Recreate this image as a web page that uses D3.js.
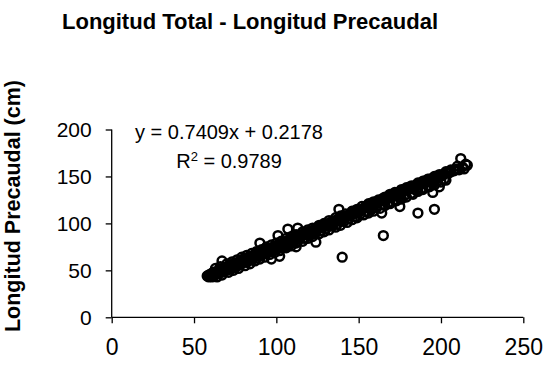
<!DOCTYPE html>
<html>
<head>
<meta charset="utf-8">
<script src="https://cdn.jsdelivr.net/npm/d3@7"></script>
<style>
  html, body { margin: 0; padding: 0; background: #fff; }
  svg { display: block; }
  text { font-family: "Liberation Sans", Arial, sans-serif; fill: #000; }
</style>
</head>
<body>
<svg id="chart" width="547" height="375"></svg>
<script>
// Longitud total (cm) vs longitud precaudal (cm), one pair per specimen
const longitudTotal = [
  58,59,59,60,60,61,61,62,62,63,64,65,65,66,67,68,68,69,70,70,
  71,72,73,74,74,75,76,77,78,78,79,80,80,81,82,83,84,84,85,86,
  87,88,88,89,90,91,92,92,93,94,95,95,96,97,98,99,100,100,101,102,
  103,104,105,105,106,107,108,109,110,110,111,112,113,114,115,115,116,117,118,119,
  120,120,121,122,123,124,125,125,126,127,128,129,130,130,131,132,133,134,135,135,
  136,137,138,139,140,140,141,142,143,144,145,145,146,147,148,149,150,150,151,152,
  153,154,155,155,156,157,158,159,160,160,161,162,163,164,165,165,166,167,168,169,
  170,170,171,172,173,174,175,176,177,178,179,180,181,182,183,184,185,186,187,188,
  190,191,192,193,195,196,198,200,202,204,206,208,210,211,213,214,210,215,216,212,
  63,66,70,73,76,79,82,85,88,91,94,97,100,103,106,109,112,116,119,122,
  126,129,132,136,139,142,146,149,152,156,159,162,166,169,172,176,179,182,186,189,
  192,196,199,203,206,
  64,67,71,74,77,81,84,87,90,93,96,99,102,106,109,112,116,119,122,126,
  129,132,136,139,143,146,149,153,156,159,163,166,169,173,176,179,183,186,189,193,
  196,200,203,
  62,65,68,71,74,77,80,83,86,89,92,95,98,101,104,107,110,113,117,120,
  123,127,130,133,137,140,143,147,150,154,157,160,164,167,171,174,177,181,184,187,
  191,194,197,201,205,208,
  61,64,67,70,73,76,79,82,85,88,91,94,97,100,103,106,110,113,117,120,
  124,127,130,134,137,141,144,148,151,155,158,161,165,168,172,175,178,182,185,188,
  192,195,198,202,
  67,90,101,107,113,138,97,102,112,124,140,164,165,175,186,196,195,199
];
const longitudPrecaudal = [
  44,45,43,46,44,45,47,46,44,47,48,48,50,49,51,50,52,52,53,51,
  54,54,55,55,57,56,57,58,58,60,59,60,62,61,62,62,64,62,64,65,
  65,66,68,67,68,68,70,68,70,71,71,73,72,73,74,74,76,74,76,77,
  77,79,79,77,80,80,81,82,83,81,84,84,85,86,86,88,87,88,90,89,
  91,89,91,92,93,94,94,96,95,96,97,97,99,97,99,100,100,102,102,100,
  103,104,104,105,106,104,107,107,108,109,110,108,111,111,112,113,114,112,114,115,
  116,117,117,119,118,119,120,121,122,120,122,123,124,125,125,127,126,127,128,129,
  129,131,130,131,132,133,133,134,135,136,136,137,138,139,139,140,141,142,142,143,
  145,145,146,147,148,149,150,151,153,154,155,157,158,157,160,158,161,163,162,169,
  52,54,57,59,61,64,66,68,70,72,75,77,79,81,84,86,88,91,93,95,
  98,100,103,106,108,110,113,115,118,121,123,125,128,131,133,136,138,140,143,145,
  147,150,152,155,157,
  43,45,48,50,52,55,57,60,62,64,67,69,71,74,76,79,81,84,86,89,
  91,93,96,98,101,104,106,109,111,113,116,119,121,124,126,128,131,134,136,139,
  141,144,146,
  48,50,53,55,57,59,62,64,66,68,70,73,75,77,79,82,84,86,89,91,
  93,96,99,101,104,106,108,111,114,117,119,121,124,126,129,131,134,137,139,141,
  144,146,148,151,154,156,
  43,46,48,50,52,54,57,59,61,63,66,68,70,72,74,76,79,81,84,87,
  90,92,94,97,99,102,105,107,110,113,115,117,120,122,125,127,130,132,135,137,
  140,142,145,147,
  60,79,87,94,95,115,62,65,75,80,64,111,87,118,111,115,133,139
];

// Fitted line shown in the corner
const ecuacion = "y = 0.7409x + 0.2178";
const r2 = "0.9789";

const xTicks = [0, 50, 100, 150, 200, 250];
const yTicks = [0, 50, 100, 150, 200];

const svg = d3.select("#chart");

const x = d3.scaleLinear().domain([0, 250]).range([111.7, 523.3]);
const y = d3.scaleLinear().domain([0, 200]).range([317.3, 129.5]);

// Title
svg.append("text")
  .attr("x", 250).attr("y", 29)
  .attr("text-anchor", "middle")
  .style("font-weight", "bold").style("font-size", "22px")
  .text("Longitud Total - Longitud Precaudal");

// Y axis title
svg.append("text")
  .attr("transform", "translate(20,206) rotate(-90)")
  .attr("text-anchor", "middle")
  .style("font-weight", "bold").style("font-size", "21.5px")
  .text("Longitud Precaudal (cm)");

// Axes
const xAxis = d3.axisBottom(x).tickValues(xTicks).tickSize(6).tickPadding(15);
const gx = svg.append("g").attr("transform", `translate(0,${y(0)})`).call(xAxis);
gx.select(".domain").attr("d", `M${x(0)},0H${x(250)}`).attr("stroke", "#000").attr("stroke-width", 1.3);
gx.selectAll(".tick line").attr("stroke", "#000").attr("stroke-width", 1.3);
gx.selectAll(".tick text").style("font-size", "23px").attr("fill", "#000")
  .style("font-family", '"Liberation Sans", Arial, sans-serif');

const yAxis = d3.axisLeft(y).tickValues(yTicks).tickSize(6).tickPadding(14);
const gy = svg.append("g").attr("transform", `translate(${x(0)},0)`).call(yAxis);
gy.select(".domain").attr("d", `M0,${y(0)}V${y(200)}`).attr("stroke", "#000").attr("stroke-width", 1.3);
gy.selectAll(".tick line").attr("stroke", "#000").attr("stroke-width", 1.3);
gy.selectAll(".tick text").style("font-size", "21px").attr("fill", "#000")
  .style("font-family", '"Liberation Sans", Arial, sans-serif');

// Open circle markers
svg.append("g")
  .selectAll("circle")
  .data(longitudTotal.map((lt, i) => [lt, longitudPrecaudal[i]]))
  .join("circle")
  .attr("cx", d => x(d[0]))
  .attr("cy", d => y(d[1]))
  .attr("r", 4.4)
  .attr("fill", "none")
  .attr("stroke", "#000")
  .attr("stroke-width", 2.5);

// Regression label
svg.append("text")
  .attr("x", 229).attr("y", 139)
  .attr("text-anchor", "middle")
  .style("font-size", "20px")
  .text(ecuacion);
const r2Text = svg.append("text")
  .attr("x", 229).attr("y", 168)
  .attr("text-anchor", "middle")
  .style("font-size", "20px");
r2Text.append("tspan").text("R");
r2Text.append("tspan").attr("dy", -7).style("font-size", "13px").text("2");
r2Text.append("tspan").attr("dy", 7).text(" = " + r2);
</script>
</body>
</html>
